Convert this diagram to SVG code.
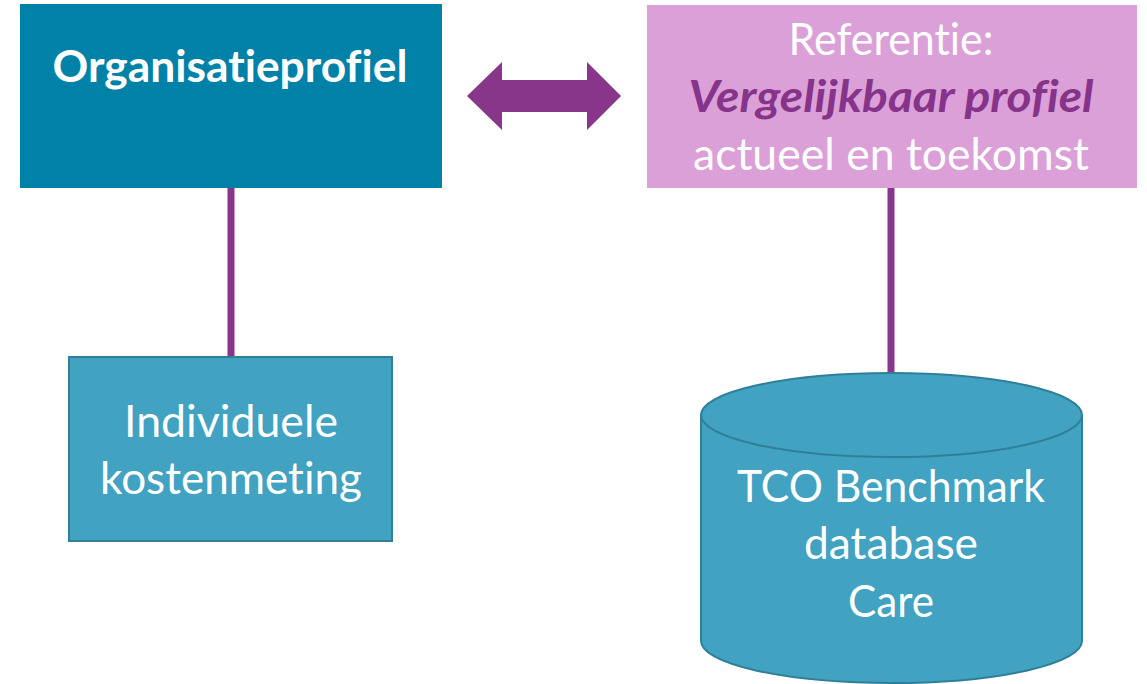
<svg xmlns="http://www.w3.org/2000/svg" width="1147" height="684" viewBox="0 0 1147 684">
<style>
text{font-family:Lato,"Open Sans","Liberation Sans",sans-serif;text-anchor:middle;fill:#fff;font-size:44px;font-variant-ligatures:none}
.b{font-weight:bold}
.bi{font-weight:bold;font-style:italic;fill:#86338A}
.conn{stroke:#88368A;stroke-width:7;fill:none}
</style>
<rect width="1147" height="684" fill="#fff"/>
<g id="connectors">
<line class="conn" x1="231" y1="187" x2="231" y2="358"/>
<line class="conn" x1="891" y1="188" x2="891" y2="376"/>
<polygon id="double-arrow" fill="#88368A" points="467,96 502,62 502,80 587,80 587,62 621,96 587,130 587,112 502,112 502,130"/>
</g>
<g id="organisatieprofiel">
<rect x="20" y="4" width="422" height="184" fill="#0082A8"/>
<text class="b" x="230" y="82" textLength="355" lengthAdjust="spacingAndGlyphs" font-size="42">Organisatieprofiel</text>
</g>
<g id="referentie">
<rect x="647" y="5" width="490" height="183" fill="#DBA0D8"/>
<text x="891" y="55" textLength="205" lengthAdjust="spacingAndGlyphs">Referentie:</text>
<text class="bi" x="891" y="112" textLength="405" lengthAdjust="spacingAndGlyphs">Vergelijkbaar profiel</text>
<text x="891" y="170" textLength="396" lengthAdjust="spacingAndGlyphs">actueel en toekomst</text>
</g>
<g id="individuele-kostenmeting">
<rect x="69" y="357" width="323" height="184" fill="#41A2C2" stroke="#347F98" stroke-width="2"/>
<text x="231" y="437" textLength="214" lengthAdjust="spacingAndGlyphs">Individuele</text>
<text x="231" y="494" textLength="262" lengthAdjust="spacingAndGlyphs">kostenmeting</text>
</g>
<g id="tco-database">
<path d="M701,415 L701,641 A190.5,42 0 0 0 1082,641 L1082,415" fill="#41A2C2" stroke="#2F7F98" stroke-width="2"/>
<ellipse cx="891.5" cy="415" rx="190.5" ry="42" fill="#41A2C2" stroke="#2F7F98" stroke-width="2"/>
<text x="891" y="502" textLength="308" lengthAdjust="spacingAndGlyphs">TCO Benchmark</text>
<text x="891" y="559" textLength="174" lengthAdjust="spacingAndGlyphs">database</text>
<text x="891" y="617" textLength="86" lengthAdjust="spacingAndGlyphs">Care</text>
</g>
</svg>
